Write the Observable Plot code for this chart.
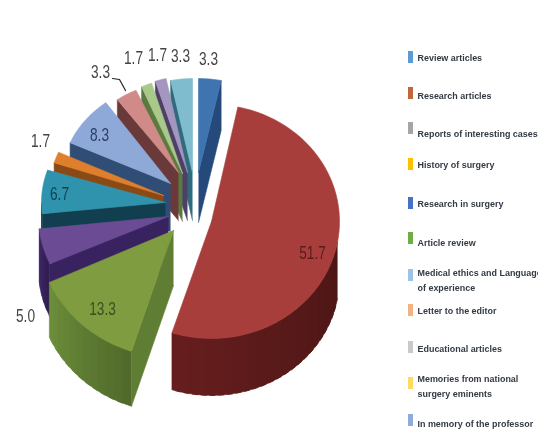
<!DOCTYPE html>
<html><head><meta charset="utf-8">
<script src="https://cdn.jsdelivr.net/npm/d3@7"></script>
<script src="https://cdn.jsdelivr.net/npm/@observablehq/plot@0.6"></script>
<style>
html,body{margin:0;padding:0;background:#fff;overflow:hidden}
svg{display:block;filter:blur(.7px)}
</style></head><body>
<script>
// data: slices clockwise from 12 o'clock
const sliceValues = [3.3, 51.7, 13.3, 5.0, 6.7, 1.7, 8.3, 3.3, 1.7, 1.7, 3.3];
const sliceLabels = ["3.3","51.7","13.3","5.0","6.7","1.7","8.3","3.3","1.7","1.7","3.3"];
const legendNames = ["Review articles","Research articles","Reports of interesting cases","History of surgery","Research in surgery","Article review","Medical ethics and Language\nof experience","Letter to the editor","Educational articles","Memories from national\nsurgery eminents","In memory of the professor"];

// styles
const topColors  = ["#3f74b0","#a83e3c","#7f9c40","#6a4b94","#2f93ad","#e07f2b","#8ea9d8","#d08a88","#a9c98a","#a596c0","#7fbccd"];
const wallColors = ["#24497a","#5a1a1a","#5f7d33","#38225f","#123f50","#8a4a15","#2f4d75","#6a3a3a","#5b7a40","#4d3f68","#2f6b7d"];
const legendColors = ["#5b9bd5","#c0683a","#a5a5a5","#ffc000","#4472c4","#70ad47","#9dc3e6","#f4b183","#c9c9c9","#ffd966","#8faadc"];
const labelColors = ["#444","#5a1c1c","#3d4f1c","#444","#123f50","#444","#2c3f66","#444","#444","#444","#444"];

// layout of the exploded, tilted pie
const apexX = [198,211,173,168,165,163,170,178,182,187,192];
const apexY = [172,221,230,216,202,195,183,172,173,172,172];
const radX  = [110,128,136,130,124,115,110,104,100,104,106];
const radY  = [ 94,117,127,116,105,106,100, 90, 95, 96, 94];
const depth = [ 50, 57, 55, 53, 50, 50, 48, 48, 48, 48, 48];
const paintOrder = [0,10,9,8,7,6,5,4,3,2,1];
const labelX = [208,312,102,25,59,40,99,100,133,157,180];
const labelY = [58,252,308,315,193,140,134,71,57,54,55];
const legendTextY = [56,94,132,163,202,241,278,309,347,384,422];
const swatchY = [57,93,128,164,203,238,275,310,347,383,420];
const rad = Math.PI/180;

// build faces from the values
const total = d3.sum(sliceValues);
let acc = 0;
const slices = sliceValues.map((v,i)=>{const a0=acc/total*360; acc+=v; return {i,a0,a1:acc/total*360};});
const faces = [];
let fid = 0;
function addFace(pts,color){const id=fid++; pts.forEach(p=>faces.push({id,color,x:p[0],y:p[1]}));}
for (const k of paintOrder){
  const s = slices[k], i=s.i;
  const P=(a,d=0)=>[apexX[i]+radX[i]*Math.sin(a*rad), apexY[i]-radY[i]*Math.cos(a*rad)+d];
  const A=(d=0)=>[apexX[i],apexY[i]+d];
  const D=depth[i];
  // radial walls that face the viewer
  if (s.a1<180) addFace([A(),P(s.a1),P(s.a1,D),A(D)],wallColors[i]);
  if (s.a0>=180) addFace([A(),P(s.a0),P(s.a0,D),A(D)],wallColors[i]);
  // outer rim
  const r0=Math.max(s.a0,100), r1=Math.min(s.a1,270);
  if (r1>r0){
    const n=Math.ceil((r1-r0)/4), step=(r1-r0)/n;
    const shade=d3.interpolateRgb(d3.rgb(wallColors[i]).darker(.45),d3.rgb(wallColors[i]).brighter(.35));
    for(let j=0;j<n;j++){
      const a=r0+j*step,b=Math.min(r1,a+step*1.6);
      addFace([P(a),P(b),P(b,D),P(a,D)],shade(n>1?j/(n-1):.5));
    }
  }
  // top surface
  const pts=[A()];
  const n=Math.max(2,Math.ceil((s.a1-s.a0)/3));
  for(let j=0;j<=n;j++) pts.push(P(s.a0+(s.a1-s.a0)*j/n));
  pts.push(A());
  addFace(pts,topColors[i]);
}

// labels
const valueLabels = sliceLabels.map((t,i)=>({t,x:labelX[i],y:labelY[i],c:labelColors[i]}));
const legendRows = legendNames.map((t,i)=>({t,y:legendTextY[i],sy:swatchY[i],c:legendColors[i]}));
const leader = [{x:112,y:78},{x:119,y:79},{x:125,y:90}];

const plot = Plot.plot({
  width:538,height:432,margin:0,
  x:{domain:[0,538],range:[0,538],axis:null},
  y:{domain:[0,432],range:[0,432],axis:null},
  color:{type:"identity"},
  style:{background:"#fff"},
  marks:[
    Plot.line(faces,{x:"x",y:"y",z:"id",fill:"color",stroke:"color",strokeWidth:.6,curve:"linear"}),
    Plot.line(leader,{x:"x",y:"y",stroke:"#222",strokeWidth:1.2,curve:"linear"}),
    Plot.text(valueLabels,{x:"x",y:"y",text:"t",fill:"c",fontSize:19,fontFamily:"'Liberation Sans Narrow','Liberation Sans',sans-serif",textAnchor:"middle",className:"vlabel"}),
    Plot.rect(legendRows,{x1:()=>408,x2:()=>413,y1:d=>d.sy-6,y2:d=>d.sy+6,fill:"c"}),
    Plot.text(legendRows,{x:()=>417,y:"y",text:"t",fill:"#333a44",fontSize:8.95,fontWeight:"bold",fontFamily:"'Liberation Sans',sans-serif",textAnchor:"start",lineHeight:1.68})
  ]
});
document.body.appendChild(plot);
// condense the value labels, as in the reference
plot.querySelectorAll(".vlabel text").forEach(t=>{
  const w=t.getComputedTextLength();
  t.setAttribute("textLength",w*.72);
  t.setAttribute("lengthAdjust","spacingAndGlyphs");
});
</script>
</body></html>
